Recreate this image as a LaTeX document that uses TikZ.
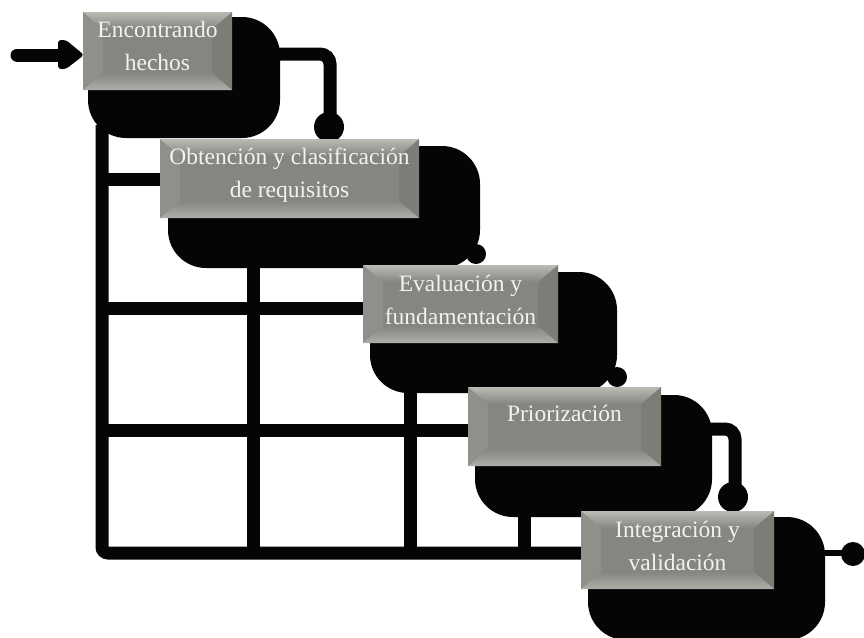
\documentclass[tikz,border=0pt]{standalone}
\usepackage{fontspec}
\setmainfont{Liberation Serif}
\usetikzlibrary{calc}
\definecolor{bevtop}{HTML}{BBBAB5}
\definecolor{bevmid}{HTML}{878580}
\definecolor{bevleft}{HTML}{918F8A}
\definecolor{bevright}{HTML}{7E7C77}
\definecolor{bevbot}{HTML}{AFAEA9}
\definecolor{inktext}{HTML}{F2F2EE}
\definecolor{ink}{HTML}{050505}
\tikzset{
  blob/.style={fill=ink,draw=none,rounded corners=38pt},
  wire/.style={draw=ink,line width=13pt},
  thinwire/.style={draw=ink,line width=6pt},
  dot/.style={circle,fill=ink,draw=none,inner sep=0pt},
  label/.style={text=inktext,align=center,font=\fontsize{23.5}{33}\selectfont,inner sep=0pt}
}
% name, x1, y1, x2, y2, text, text y
\newcommand{\bevelbox}[7]{%
  \coordinate (#1nw) at (#2,#3);
  \coordinate (#1se) at (#4,#5);
  \coordinate (#1ne) at (#4,#3);
  \coordinate (#1sw) at (#2,#5);
  \coordinate (#1inw) at ($(#1nw)+(20,17)$);
  \coordinate (#1ine) at ($(#1ne)+(-20,17)$);
  \coordinate (#1ise) at ($(#1se)+(-20,-17)$);
  \coordinate (#1isw) at ($(#1sw)+(20,-17)$);
  \fill[bevmid] (#1nw) rectangle (#1se);
  \fill[bevleft] (#1nw) -- (#1inw) -- (#1isw) -- (#1sw) -- cycle;
  \fill[bevright] (#1ne) -- (#1ine) -- (#1ise) -- (#1se) -- cycle;
  \shade[top color=bevtop,bottom color=bevmid] (#1nw) -- (#1ne) -- (#1ine) -- (#1inw) -- cycle;
  \shade[top color=bevmid,bottom color=bevbot] (#1isw) -- (#1ise) -- (#1se) -- (#1sw) -- cycle;
  \node[label] (#1) at ($(#2,#7)!0.5!(#4,#7)$) {#6};
}
\begin{document}
\begin{tikzpicture}[x=1pt,y=-1pt]
\useasboundingbox (0,0) rectangle (864,637);
\fill[white] (0,0) rectangle (864,637);
% drop-shadow blobs
\fill[blob] (88,17) -- (280,17) -- (280,138) -- (88,138) -- cycle;
\fill[blob] (168,146) -- (480,146) -- (480,268) -- (168,268) -- cycle;
\fill[blob] (370,272) -- (617,272) -- (617,393) -- (370,393) -- cycle;
\fill[blob] (475,395) -- (712,395) -- (712,517) -- (475,517) -- cycle;
\fill[blob] (588,517) -- (825,517) -- (825,640) -- (588,640) -- cycle;
% named junctions
\coordinate (tr) at (102,125);
\coordinate (corner) at (102,553);
\coordinate (j2) at (165,179);
\coordinate (j3) at (368,308);
\coordinate (j4) at (473,430);
\coordinate (j5) at (586,553);
\coordinate (v2) at (253,262);
\coordinate (v3) at (410,388);
\coordinate (v4) at (524,512);
\coordinate (in) at (17,55);
\coordinate (inend) at (70,55);
\coordinate (o1) at (275,54);
\coordinate (d1) at (330,125);
\coordinate (o4) at (708,429);
\coordinate (d4) at (735,495);
\coordinate (o5) at (820,553);
\coordinate (d5) at (853,553);
% grid
\draw[wire,rounded corners=6pt] (tr) -- (corner) -- (j5);
\draw[wire] (j2 -| tr) -- (j2);
\draw[wire] (j3 -| tr) -- (j3);
\draw[wire] (j4 -| tr) -- (j4);
\draw[wire] (v2) -- (v2 |- corner);
\draw[wire] (v3) -- (v3 |- corner);
\draw[wire] (v4) -- (v4 |- corner);
% connectors and end blobs
\draw[wire,line cap=round] (in) -- (inend);
\fill[ink,rounded corners=3pt] (58,40) -- (66,40) -- (84,55) -- (66,69) -- (58,69) -- cycle;
\draw[wire,rounded corners=10pt] (o1) -- (o1 -| d1) -- (d1);
\node[dot,minimum size=30pt] (e1) at (329,127) {};
\node[dot,minimum size=20pt] (e2) at (476,254) {};
\node[dot,minimum size=20pt] (e3) at (617,377) {};
\draw[wire,rounded corners=10pt] (o4) -- (o4 -| d4) -- (d4);
\node[dot,minimum size=30pt] (e4) at (733,497) {};
\draw[thinwire] (o5) -- (d5);
\node[dot,minimum size=24pt] (e5) at (853,554) {};
% boxes
\bevelbox{b1}{83}{12}{232}{90}{Encontrando\\hechos}{46}
\bevelbox{b2}{160}{139}{419}{218}{Obtención y clasificación\\de requisitos}{175}
\bevelbox{b3}{363}{265}{558}{343}{Evaluación y\\fundamentación}{300}
\bevelbox{b4}{468}{387}{661}{466}{Priorización}{413}
\bevelbox{b5}{581}{511}{774}{589}{Integración y\\validación}{546}
\end{tikzpicture}
\end{document}
